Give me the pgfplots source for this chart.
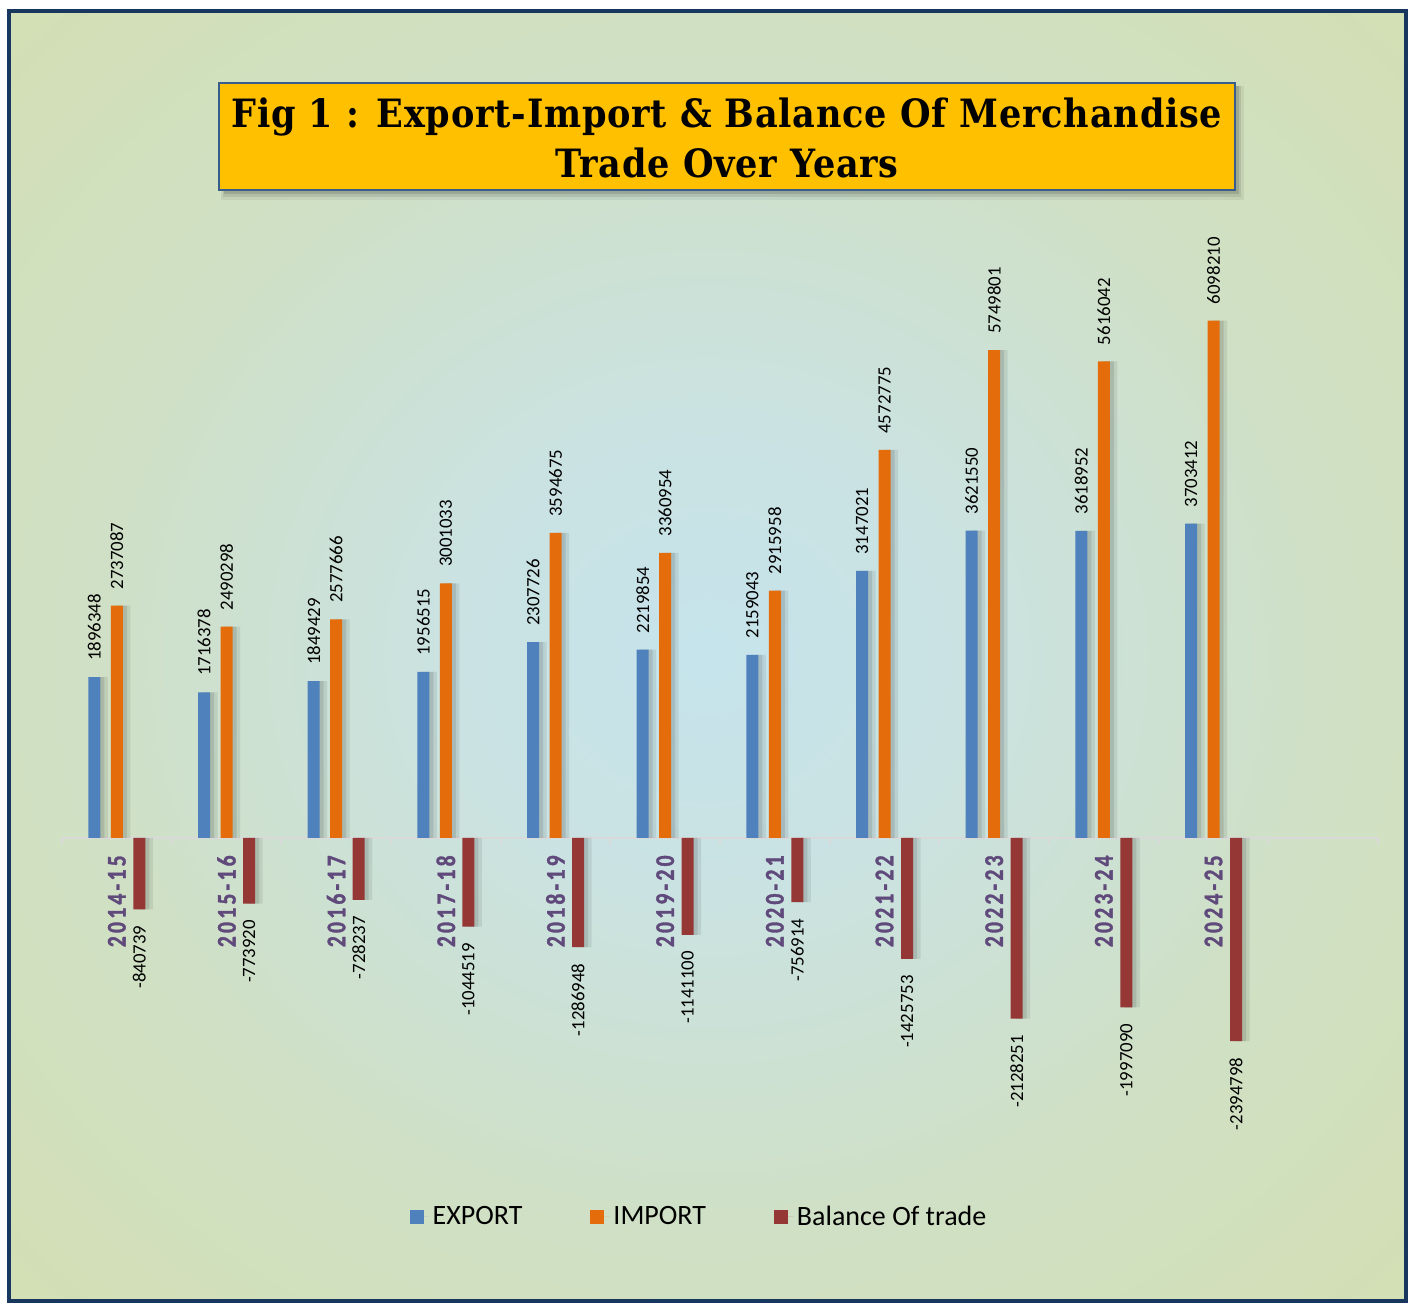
\documentclass[border=0pt]{standalone}
\usepackage{pgfplots}
\pgfplotsset{compat=1.18}
\usepackage{pgfplotstable}
\usepackage{fontspec}
\setmainfont{Carlito}
\newfontfamily\titlefont[FakeStretch=0.9,LetterSpace=2]{DejaVu Serif}
\newfontfamily\catfont[FakeStretch=0.8,LetterSpace=12,FakeBold=1.2]{Carlito Bold}

\definecolor{cexp}{HTML}{4F81BD}
\definecolor{cimp}{HTML}{E46C0A}
\definecolor{cbal}{HTML}{953735}
\definecolor{ccat}{HTML}{604A7B}
\definecolor{cframe}{HTML}{17375E}
\definecolor{tbox}{HTML}{FFC000}
\definecolor{tborder}{HTML}{385D8A}
\definecolor{bgc}{HTML}{C6E4EC}
\definecolor{bgc2}{HTML}{CAE2E2}
\definecolor{bgm}{HTML}{D0E0C4}
\definecolor{bgg}{HTML}{D3DFB3}
\definecolor{bge1}{HTML}{DAE5C2}
\definecolor{bge}{HTML}{E1EACF}

\pgfdeclareradialshading{bgshade}{\pgfpoint{0bp}{0bp}}{color(0bp)=(bgc); color(9bp)=(bgc2); color(23bp)=(bgm); color(36bp)=(bgg); color(45bp)=(bge1); color(50bp)=(bge)}

\pgfplotstableread{
x e i b
0 1896348 2737087 -840739
1 1716378 2490298 -773920
2 1849429 2577666 -728237
3 1956515 3001033 -1044519
4 2307726 3594675 -1286948
5 2219854 3360954 -1141100
6 2159043 2915958 -756914
7 3147021 4572775 -1425753
8 3621550 5749801 -2128251
9 3618952 5616042 -1997090
10 3703412 6098210 -2394798
}\data

\begin{document}
\begin{tikzpicture}
\useasboundingbox (0,0) rectangle (707bp,652bp);
\shade[shading=bgshade] (4.5bp,1bp) rectangle (703bp,646.5bp);
\draw[cframe, line width=1.6bp] (4.5bp,1.5bp) rectangle (703bp,646.5bp);
% title box with shadow
\fill[black, opacity=0.06] (110.5bp,552bp) rectangle (622bp,609bp);
\fill[black, opacity=0.09] (111.5bp,553.5bp) rectangle (620.5bp,609bp);
\fill[black, opacity=0.12] (112bp,555bp) rectangle (619.5bp,609bp);
\draw[tborder, fill=tbox, line width=1bp] (109.5bp,557bp) rectangle (617.5bp,610.5bp);
\node[align=center, inner sep=0pt, font=\titlefont\bfseries\fontsize{19.5bp}{25bp}\selectfont] at (363.5bp,583bp) {Fig 1 : Export-Import \& Balance Of Merchandise\\Trade Over Years};

\begin{axis}[
  at={(31bp,84.5bp)}, anchor=south west, scale only axis,
  width=658bp, height=445.5bp,
  xmin=-0.5, xmax=11.5, ymin=-3500000, ymax=7000000,
  axis x line=middle, axis y line=none,
  axis line style={-, draw=black!15, line width=1.2bp},
  xtick={0,...,10},
  xticklabels={2014-15,2015-16,2016-17,2017-18,2018-19,2019-20,2020-21,2021-22,2022-23,2023-24,2024-25},
  minor xtick={-0.5,0.5,...,11.5},
  tick align=outside, major tick length=0pt, minor tick length=3bp,
  tick style={draw=black!15, line width=1bp},
  xticklabel style={rotate=90, anchor=east, inner sep=0pt, text=ccat,
    font=\catfont\fontsize{13.5bp}{14bp}\selectfont},
  xticklabel shift=8.5bp,
  ytick=\empty,
  ybar, bar width=6bp,
  clip=false,
  legend columns=3,
  legend style={draw=none, fill=none, at={(axis description cs:0.5,0)}, anchor=center,
    yshift=-41bp, xshift=-10bp, font=\fontsize{14bp}{15bp}\selectfont,
    /tikz/every even column/.append style={column sep=32bp}},
  legend image code/.code={\fill[#1] (0bp,-3.5bp) rectangle (7bp,3.5bp); \path (0bp,0bp) -- (9.5bp,0bp);},
]
% shadows
\addplot[forget plot, draw=none, fill=black, fill opacity=0.08, bar shift=-8bp, bar width=7bp] table[x=x,y=e]{\data};
\addplot[forget plot, draw=none, fill=black, fill opacity=0.08, bar shift=3.25bp, bar width=7bp] table[x=x,y=i]{\data};
\addplot[forget plot, draw=none, fill=black, fill opacity=0.08, bar shift=14.5bp, bar width=7bp] table[x=x,y=b]{\data};
\addplot[forget plot, draw=none, fill=black, fill opacity=0.1, bar shift=-9.25bp, bar width=6bp] table[x=x,y=e]{\data};
\addplot[forget plot, draw=none, fill=black, fill opacity=0.1, bar shift=2bp, bar width=6bp] table[x=x,y=i]{\data};
\addplot[forget plot, draw=none, fill=black, fill opacity=0.1, bar shift=13.25bp, bar width=6bp] table[x=x,y=b]{\data};
% bars
\addplot[draw=none, fill=cexp, bar shift=-11.25bp, point meta=explicit symbolic,
  nodes near coords, nodes near coords style={rotate=90, anchor=west, inner xsep=8bp, inner ysep=0pt, font=\fontsize{9.4bp}{10bp}\selectfont, text=black}]
  table[x=x,y=e,meta=e]{\data};
\addplot[draw=none, fill=cimp, bar shift=0bp, point meta=explicit symbolic,
  nodes near coords, nodes near coords style={rotate=90, anchor=west, inner xsep=8bp, inner ysep=0pt, font=\fontsize{9.4bp}{10bp}\selectfont, text=black}]
  table[x=x,y=i,meta=i]{\data};
\addplot[draw=none, fill=cbal, bar shift=11.25bp, point meta=explicit symbolic,
  nodes near coords, nodes near coords style={rotate=90, anchor=east, inner xsep=8bp, inner ysep=0pt, font=\fontsize{9.4bp}{10bp}\selectfont, text=black}]
  table[x=x,y=b,meta=b]{\data};
\legend{EXPORT,IMPORT,Balance Of trade}
\end{axis}
\end{tikzpicture}
\end{document}
